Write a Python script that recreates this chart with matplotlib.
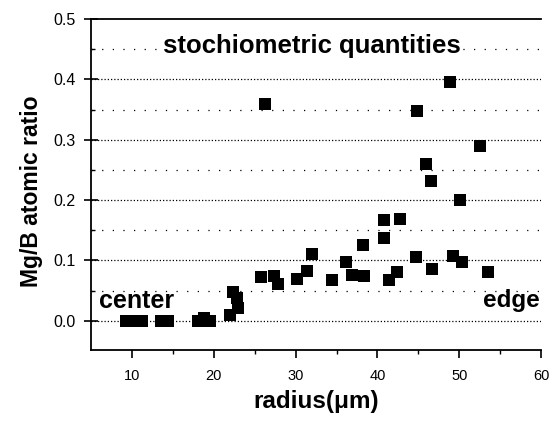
"""Mg/B atomic ratio versus radius, scatter with stoichiometric guide lines."""

import matplotlib

matplotlib.use("Agg")
import matplotlib.pyplot as plt
import numpy as np

plt.rcParams["font.family"] = ["Liberation Sans", "DejaVu Sans"]

# radius (um) and Mg/B atomic ratio
RADIUS = [
    9.2, 10.2, 11.2, 13.5, 14.4, 18.1, 18.8, 19.5,
    22.0, 22.3, 22.8, 23.0,
    25.8, 26.3, 27.4, 27.9, 30.2, 31.4, 32.0, 34.5, 36.2, 36.9,
    38.2, 38.3, 40.8, 40.8, 41.4, 42.4, 42.8,
    44.7, 44.9, 46.0, 46.6, 46.7, 48.9, 49.3, 50.1, 50.4, 52.5, 53.5,
]
RATIO = [
    0.0, 0.0, 0.0, 0.0, 0.0, 0.0, 0.004, 0.0,
    0.010, 0.048, 0.038, 0.022,
    0.073, 0.359, 0.075, 0.061, 0.069, 0.083, 0.111, 0.068, 0.097, 0.076,
    0.126, 0.074, 0.167, 0.137, 0.067, 0.081, 0.168,
    0.105, 0.348, 0.260, 0.232, 0.086, 0.396, 0.108, 0.200, 0.098, 0.289, 0.081,
]

MAJOR_LEVELS = [0.0, 0.1, 0.2, 0.3, 0.4]
HALF_LEVELS = [0.05, 0.15, 0.25, 0.35, 0.45]


def main() -> None:
    fig = plt.figure(figsize=(5.56, 4.21), dpi=100)
    ax = fig.add_axes([0.164, 0.169, 0.809, 0.786])

    for y in MAJOR_LEVELS:
        ax.axhline(y, color="black", lw=0.9, ls=(0, (1, 1.6)), zorder=1)
    for y in HALF_LEVELS:
        ax.axhline(y, color="black", lw=0.9, ls=(0, (1, 7.5)), zorder=1)

    ax.scatter(RADIUS, RATIO, marker="s", s=75, color="black", zorder=3, linewidths=0)

    ax.set_xlim(5, 60)
    ax.set_ylim(-0.048, 0.5)
    ax.set_xticks(np.arange(10, 61, 10))
    ax.set_xticks(np.arange(15, 60, 10), minor=True)
    ax.set_yticks(MAJOR_LEVELS + [0.5])
    ax.set_yticks(HALF_LEVELS, minor=True)
    ax.set_yticklabels([f"{v:.1f}" for v in MAJOR_LEVELS + [0.5]])

    ax.spines["right"].set_visible(False)
    for side in ("left", "bottom", "top"):
        ax.spines[side].set_linewidth(1.3)

    ax.tick_params(axis="x", which="major", direction="out", length=6, width=1.2,
                   labelsize=10.5, pad=8)
    ax.tick_params(axis="x", which="minor", direction="out", length=3, width=1.0)
    ax.tick_params(axis="y", which="major", direction="inout", length=10, width=1.2,
                   labelsize=11.5, pad=6)
    ax.tick_params(axis="y", which="minor", direction="in", length=3, width=1.0)

    ax.set_xlabel("radius(\u03bcm)", fontsize=17.5, fontweight="bold", labelpad=5)
    ax.set_ylabel("Mg/B atomic ratio", fontsize=16.5, fontweight="bold")
    ax.yaxis.set_label_coords(-0.108, 0.48)

    ax.text(32.0, 0.455, "stochiometric quantities", ha="center", va="center",
            fontsize=18.5, fontweight="bold", zorder=2,
            bbox=dict(facecolor="white", edgecolor="none", pad=0.5))
    ax.text(6.0, 0.033, "center", ha="left", va="center", fontsize=18,
            fontweight="bold", zorder=2)
    ax.text(59.9, 0.033, "edge", ha="right", va="center", fontsize=17.5,
            fontweight="bold", zorder=2)

    fig.savefig("out.png", dpi=100, facecolor="white")
    plt.close(fig)


if __name__ == "__main__":
    main()
